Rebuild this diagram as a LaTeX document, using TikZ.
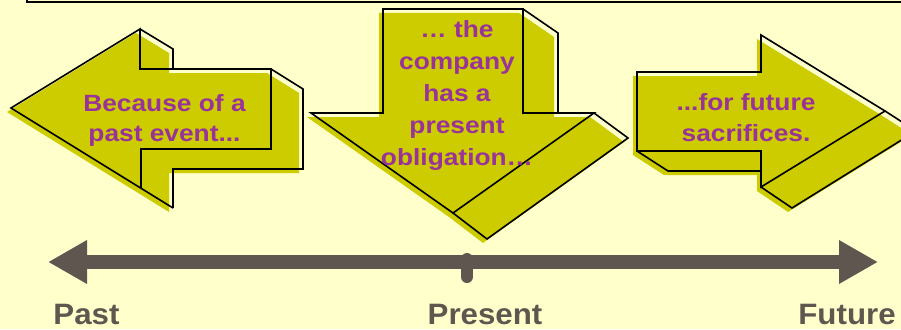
\documentclass[tikz,border=0pt]{standalone}
\usepackage{fontspec}
\setmainfont{Liberation Sans}
\newfontfamily\arrowfont{Liberation Sans}[FakeStretch=1.12]
\newfontfamily\labelfont{Liberation Sans}[FakeStretch=1.06]
\usetikzlibrary{arrows.meta}
\definecolor{bgcol}{HTML}{FFFFCC}
\definecolor{olivefill}{HTML}{CCCC00}
\definecolor{txtpurple}{HTML}{993399}
\definecolor{timecol}{HTML}{5F574F}
\begin{document}
\begin{tikzpicture}[x=1pt,y=-1pt,
  outline/.style={draw=black,line width=1.6pt,line join=miter},
  solidface/.style={fill=olivefill,draw=none,shift={(-4,4)}},
  arrowtext/.style={text=txtpurple,align=center,inner sep=0pt,
    font=\arrowfont\bfseries\fontsize{23.5}{#1}\selectfont},
  tlabel/.style={text=timecol,inner sep=0pt,anchor=base,
    font=\labelfont\bfseries\fontsize{29.5}{34}\selectfont},
  timeline/.style={draw=timecol,line width=14pt},
  tick/.style={draw=timecol,line width=12pt,line cap=round}]
\useasboundingbox (0,0) rectangle (901,329);
\fill[bgcol] (0,0) rectangle (901,329);
% frame of the box above
\draw[line width=2pt] (27,-5) -- (27,2) -- (906,2);

% left arrow (past)
\fill[solidface] (11,108) -- (140,29) -- (173,49) -- (173,69) -- (271,69) -- (303,89) -- (303,169) -- (173,169) -- (173,208) -- cycle;
\draw[outline] (173,208) -- (11,108) -- (140,29) -- (140,69) -- (271,69) -- (271,149) -- (141,149) -- (141,188);
\draw[outline] (140,29) -- (173,49) -- (173,69);
\draw[outline] (271,69) -- (303,89) -- (303,169) -- (173,169) -- (173,208);

% middle arrow (present)
\fill[solidface] (383,9) -- (523,9) -- (558,33) -- (558,113) -- (594,113) -- (628,138) -- (487,239) -- (453,213) -- (311,113) -- (383,113) -- cycle;
\draw[outline] (383,9) -- (523,9) -- (523,113) -- (594,113) -- (453,213) -- (311,113) -- (383,113) -- cycle;
\draw[outline] (523,9) -- (558,33) -- (558,113);
\draw[outline] (594,113) -- (628,138) -- (487,239) -- (453,213);

% right arrow (future)
\fill[solidface] (637,72) -- (761,72) -- (761,35) -- (885,111) -- (916,131) -- (792,208) -- (761,187) -- (761,171) -- (668,171) -- (637,151) -- cycle;
\draw[outline] (637,72) -- (761,72) -- (761,35) -- (885,111) -- (761,187) -- (761,151) -- (637,151) -- cycle;
\draw[outline] (637,151) -- (668,171) -- (761,171);
\draw[outline] (761,187) -- (792,208) -- (916,131) -- (885,111);

% arrow texts
\node[arrowtext=30] (pasttext) at (164.5,120) {Because of a\\past event...};
\node[arrowtext=32] (presenttext) at (457,95.5) {… the\\company\\has a\\present\\obligation…};
\node[arrowtext=31.5] (futuretext) at (746,117.5) {...for future\\sacrifices.};

% timeline
\coordinate (tlleft) at (48,262);
\coordinate (tlright) at (878,262);
\draw[timeline,{Triangle[length=39pt,width=41pt]}-{Triangle[length=39pt,width=41pt]}] (tlleft) -- (tlright);
\coordinate (ticktop) at (467,259);
\coordinate (tickbot) at (467,277);
\draw[tick] (ticktop) -- (tickbot);

\node[tlabel] (past) at (86.5,324) {Past};
\node[tlabel] (present) at (485,324) {Present};
\node[tlabel] (future) at (847,324) {Future};
\end{tikzpicture}
\end{document}
